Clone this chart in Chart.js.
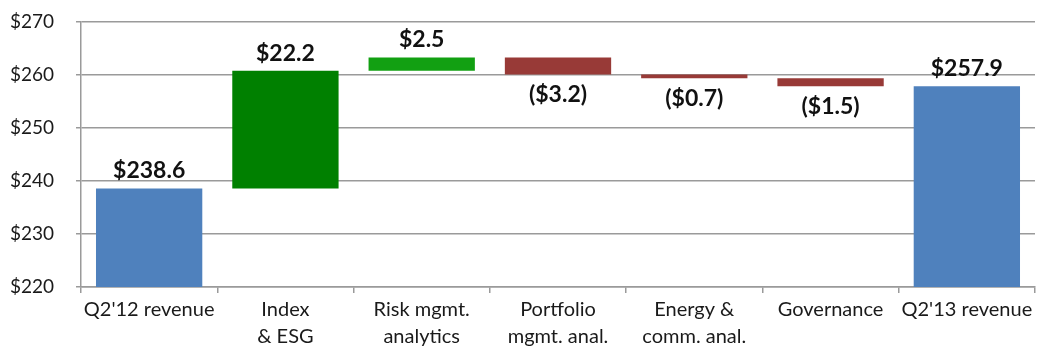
<!DOCTYPE html>
<html>
<head>
<meta charset="utf-8">
<script src="https://cdn.jsdelivr.net/npm/chart.js@4/dist/chart.umd.min.js"></script>
<style>
  html, body { margin: 0; padding: 0; background: #fff; }
  #wrap { width: 1039px; height: 349px; }
</style>
</head>
<body>
<div id="wrap"><canvas id="waterfallChart" width="1039" height="349"></canvas></div>
<script>
// Revenue bridge Q2'12 -> Q2'13 ($M)
const categories = [
    "Q2'12 revenue",
    ['Index', '& ESG'],
    ['Risk mgmt.', 'analytics'],
    ['Portfolio', 'mgmt. anal.'],
    ['Energy &', 'comm. anal.'],
    'Governance',
    "Q2'13 revenue"
];
const startValue = 238.6;
const changes = [22.2, 2.5, -3.2, -0.7, -1.5];
const endValue = 257.9;
const barColors = ['#4f81bd', '#008000', '#12a012', '#983a37', '#983a37', '#983a37', '#4f81bd'];
const yTicks = [220, 230, 240, 250, 260, 270];

// build floating bars [from, to] from the values above
function buildBars() {
    const bars = [[yTicks[0], startValue]];
    const labels = [startValue];
    let running = startValue;
    changes.forEach(function (c) {
        bars.push([running, running + c]);
        labels.push(c);
        running += c;
    });
    bars.push([yTicks[0], endValue]);
    labels.push(endValue);
    return { bars, labels };
}

function money(v) {
    const s = '$' + Math.abs(v).toFixed(1);
    return v < 0 ? '(' + s + ')' : s;
}

const built = buildBars();

// draws the value labels above (or below, for negatives) each bar
const valueLabels = {
    id: 'valueLabels',
    afterDatasetsDraw(chart) {
        const ctx = chart.ctx;
        const meta = chart.getDatasetMeta(0);
        ctx.save();
        ctx.font = 'bold 23px Lato, "Open Sans", sans-serif';
        ctx.fillStyle = '#111';
        ctx.textAlign = 'center';
        meta.data.forEach(function (bar, i) {
            const v = built.labels[i];
            const top = Math.min(bar.y, bar.base);
            const bottom = Math.max(bar.y, bar.base);
            if (v < 0) {
                ctx.textBaseline = 'top';
                ctx.fillText(money(v), bar.x, bottom + 9);
            } else {
                ctx.textBaseline = 'bottom';
                ctx.fillText(money(v), bar.x, top - 6);
            }
        });
        ctx.restore();
    }
};

new Chart(document.getElementById('waterfallChart').getContext('2d'), {
    type: 'bar',
    data: {
        labels: categories,
        datasets: [{
            data: built.bars,
            backgroundColor: barColors,
            borderWidth: 0,
            categoryPercentage: 1,
            barPercentage: 0.78
        }]
    },
    options: {
        responsive: false,
        animation: false,
        layout: { padding: { top: 22, right: 4, left: 0, bottom: 0 } },
        plugins: {
            legend: { display: false },
            tooltip: { enabled: false }
        },
        scales: {
            x: {
                grid: {
                    offset: true,
                    drawOnChartArea: false,
                    color: '#9a9a9a',
                    lineWidth: 1.5,
                    tickLength: 6
                },
                border: { color: '#9a9a9a', width: 1.5 },
                ticks: {
                    color: '#1a1a1a',
                    padding: 3,
                    maxRotation: 0,
                    autoSkip: false,
                    font: { family: 'Lato, "Open Sans", sans-serif', size: 20, lineHeight: 1.35 }
                },
                afterFit: function (scale) { scale.height = 62; }
            },
            y: {
                min: yTicks[0],
                max: yTicks[yTicks.length - 1],
                afterBuildTicks: function (scale) {
                    scale.ticks = yTicks.map(function (v) { return { value: v }; });
                },
                grid: {
                    color: '#9a9a9a',
                    lineWidth: 1.5,
                    tickLength: 5
                },
                border: { color: '#9a9a9a', width: 1.5 },
                ticks: {
                    color: '#1a1a1a',
                    padding: 22,
                    font: { family: 'Lato, "Open Sans", sans-serif', size: 19 },
                    callback: function (v) { return '$' + v; }
                },
                afterFit: function (scale) {
                    scale.width = 81;
                    // tick padding is meant horizontally, not above the axis
                    scale.paddingTop = 0;
                    scale.paddingBottom = 0;
                }
            }
        }
    },
    plugins: [valueLabels]
});
</script>
</body>
</html>
